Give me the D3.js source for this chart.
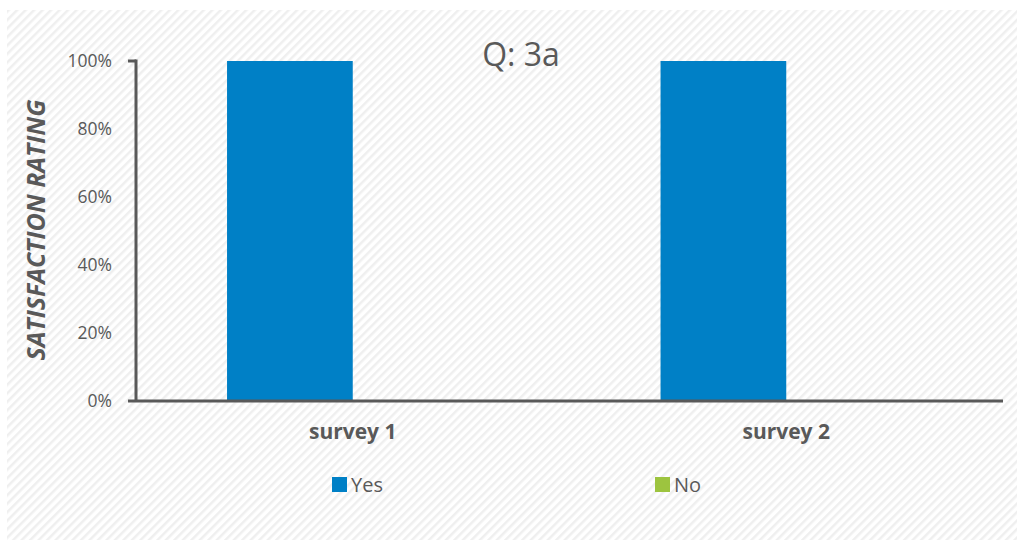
<!DOCTYPE html>
<html>
<head>
<meta charset="utf-8">
<script src="https://cdnjs.cloudflare.com/ajax/libs/d3/7.8.5/d3.min.js"></script>
<style>
  body { margin: 0; background: #fff; }
  svg { display: block; }
  svg text { font-family: "Open Sans", sans-serif; }
</style>
</head>
<body>
<svg width="1024" height="548"></svg>
<script>
var categories = ['survey 1', 'survey 2'];
var seriesNames = ['Yes', 'No'];
var yesValues = [1, 1];
var noValues = [0, 0];
var yTicks = [0, 0.2, 0.4, 0.6, 0.8, 1];
var colors = ['#0080c6', '#9dc43f'];

var svg = d3.select('svg'),
    margin = { left: 136, right: 21, top: 61, bottom: 147 },
    width = 1024 - margin.left - margin.right,
    height = 548 - margin.top - margin.bottom;

// hatched background
var defs = svg.append('defs');
var pat = defs.append('pattern')
    .attr('id', 'hatch')
    .attr('width', 6).attr('height', 6)
    .attr('patternUnits', 'userSpaceOnUse')
    .attr('patternTransform', 'rotate(45)');
pat.append('rect').attr('width', 6).attr('height', 6).attr('fill', '#fff');
pat.append('rect').attr('width', 2.5).attr('height', 6).attr('fill', '#efefef');

svg.append('rect')
    .attr('x', 7).attr('y', 10)
    .attr('width', 1010).attr('height', 530)
    .attr('fill', 'url(#hatch)');

var rows = categories.map(function (c, i) {
    return { cat: c, Yes: yesValues[i], No: noValues[i] };
});

var x0 = d3.scaleBand().domain(categories).range([0, width]).paddingInner(0.42).paddingOuter(0.21);
var x1 = d3.scaleBand().domain(seriesNames).range([0, x0.bandwidth()]);
var y = d3.scaleLinear().domain([0, 1]).range([height, 0]);
var color = d3.scaleOrdinal().domain(seriesNames).range(colors);

var g = svg.append('g').attr('transform', 'translate(' + margin.left + ',' + margin.top + ')');

// bars
g.selectAll('.grp')
    .data(rows)
    .enter().append('g')
    .attr('transform', function (d) { return 'translate(' + x0(d.cat) + ',0)'; })
    .selectAll('rect')
    .data(function (d) { return seriesNames.map(function (s) { return { s: s, v: d[s] }; }); })
    .enter().append('rect')
    .attr('x', function (d) { return x1(d.s); })
    .attr('width', x1.bandwidth())
    .attr('y', function (d) { return y(d.v); })
    .attr('height', function (d) { return height - y(d.v); })
    .attr('fill', function (d) { return color(d.s); });

// y axis
var yAxis = g.append('g')
    .call(d3.axisLeft(y).tickValues(yTicks).tickFormat(d3.format('.0%')).tickSize(0).tickPadding(24));
yAxis.select('.domain').remove();
yAxis.selectAll('text').attr('fill', '#595959').style('font-size', '17.5px');

g.append('line')
    .attr('x1', 0).attr('x2', 0)
    .attr('y1', y(1) - 1.5).attr('y2', height)
    .attr('stroke', '#595959').attr('stroke-width', 3);
g.append('line')
    .attr('x1', -8).attr('x2', 0)
    .attr('y1', y(1)).attr('y2', y(1))
    .attr('stroke', '#595959').attr('stroke-width', 3);

// x axis
var xAxis = g.append('g')
    .attr('transform', 'translate(0,' + height + ')')
    .call(d3.axisBottom(x0).tickSize(0).tickPadding(23));
xAxis.select('.domain').remove();
xAxis.selectAll('text')
    .attr('fill', '#595959')
    .style('font-size', '21px')
    .style('font-weight', 'bold');

g.append('line')
    .attr('x1', -8).attr('x2', width)
    .attr('y1', height).attr('y2', height)
    .attr('stroke', '#595959').attr('stroke-width', 3);

// y title
svg.append('text')
    .attr('transform', 'translate(45,230) rotate(-90)')
    .attr('text-anchor', 'middle')
    .attr('fill', '#595959')
    .style('font-size', '25px')
    .style('font-weight', 'bold')
    .style('font-style', 'italic')
    .text('SATISFACTION RATING');

// chart title
svg.append('text')
    .attr('x', 521).attr('y', 66)
    .attr('text-anchor', 'middle')
    .attr('fill', '#595959')
    .style('font-size', '32px')
    .text('Q: 3a');

// legend
var legendX = [332, 655];
var legend = svg.selectAll('.legend')
    .data(seriesNames)
    .enter().append('g')
    .attr('transform', function (d, i) { return 'translate(' + legendX[i] + ',477)'; });
legend.append('rect')
    .attr('width', 15).attr('height', 15)
    .attr('fill', function (d) { return color(d); });
legend.append('text')
    .attr('x', 19).attr('y', 15)
    .attr('fill', '#595959')
    .style('font-size', '20px')
    .text(function (d) { return d; });
</script>
</body>
</html>
